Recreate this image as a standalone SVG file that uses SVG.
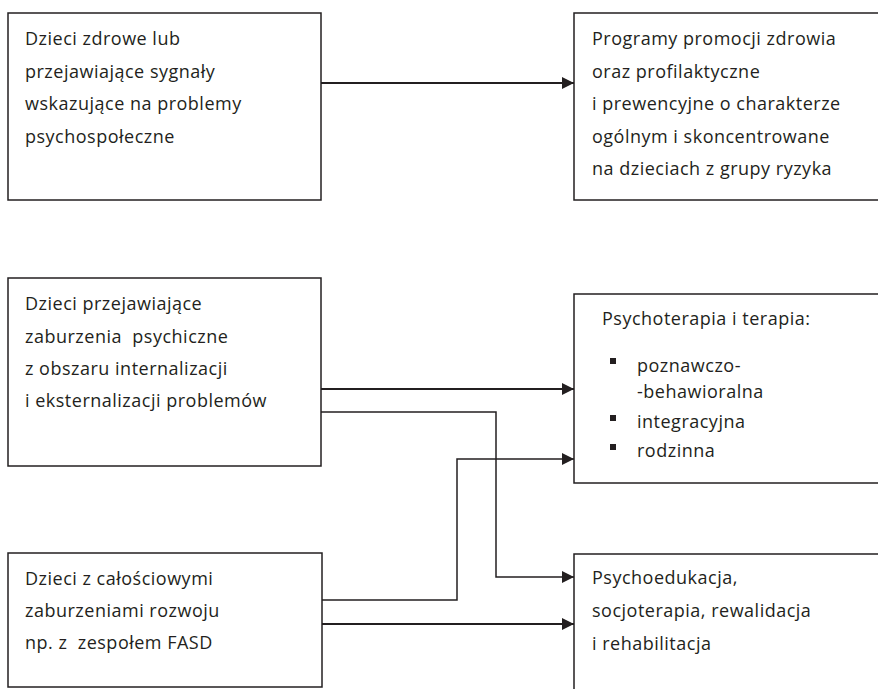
<svg xmlns="http://www.w3.org/2000/svg" width="878" height="689" viewBox="0 0 878 689">
  <style>
    .box { fill: #ffffff; stroke: #231f20; stroke-width: 1.5; }
    .lbl { font-family: "Open Sans", "Noto Sans", "Liberation Sans", sans-serif; font-size: 18px; letter-spacing: 0.5px; fill: #231f20; white-space: pre; }
    .wire { fill: none; stroke: #231f20; stroke-width: 1.5; }
    .wire.bold { stroke-width: 2.2; }
    .bullet { fill: #231f20; }
  </style>
  <defs>
    <marker id="arrowhead" markerWidth="12" markerHeight="12" refX="12" refY="6" orient="auto" markerUnits="userSpaceOnUse">
      <path d="M0,0 L12,6 L0,12 Z" fill="#231f20"/>
    </marker>
  </defs>
  <rect width="878" height="689" fill="#ffffff"/>

  <g id="connectors">
    <line class="wire bold" x1="321" y1="83" x2="574" y2="83" marker-end="url(#arrowhead)"/>
    <line class="wire bold" x1="321" y1="389" x2="574" y2="389" marker-end="url(#arrowhead)"/>
    <polyline class="wire" points="321,412 496,412 496,577 574,577" marker-end="url(#arrowhead)"/>
    <polyline class="wire" points="321,600 457,600 457,459 574,459" marker-end="url(#arrowhead)"/>
    <line class="wire bold" x1="321" y1="624" x2="574" y2="624" marker-end="url(#arrowhead)"/>
  </g>

  <g id="node-healthy">
    <rect class="box" x="8" y="13" width="313" height="187"/>
    <text class="lbl" x="25" y="45">Dzieci zdrowe lub</text>
    <text class="lbl" x="25" y="77.5">przejawiające sygnały</text>
    <text class="lbl" x="25" y="110">wskazujące na problemy</text>
    <text class="lbl" x="25" y="142.5">psychospołeczne</text>
  </g>

  <g id="node-programs">
    <rect class="box" x="574" y="13" width="320" height="187"/>
    <text class="lbl" x="592" y="45">Programy promocji zdrowia</text>
    <text class="lbl" x="592" y="77.5">oraz profilaktyczne</text>
    <text class="lbl" x="592" y="110">i prewencyjne o charakterze</text>
    <text class="lbl" x="592" y="142.5">ogólnym i skoncentrowane</text>
    <text class="lbl" x="592" y="175">na dzieciach z grupy ryzyka</text>
  </g>

  <g id="node-disorders">
    <rect class="box" x="8" y="278" width="313" height="188"/>
    <text class="lbl" x="25" y="310">Dzieci przejawiające</text>
    <text class="lbl" x="25" y="343">zaburzenia  psychiczne</text>
    <text class="lbl" x="25" y="375">z obszaru internalizacji</text>
    <text class="lbl" x="25" y="407">i eksternalizacji problemów</text>
  </g>

  <g id="node-therapy">
    <rect class="box" x="574" y="294" width="320" height="189"/>
    <text class="lbl" x="602" y="325">Psychoterapia i terapia:</text>
    <rect class="bullet" x="610" y="358" width="6" height="6"/>
    <text class="lbl" x="637" y="372">poznawczo-</text>
    <text class="lbl" x="637" y="398">-behawioralna</text>
    <rect class="bullet" x="610" y="415" width="6" height="6"/>
    <text class="lbl" x="637" y="428">integracyjna</text>
    <rect class="bullet" x="610" y="444" width="6" height="6"/>
    <text class="lbl" x="637" y="457">rodzinna</text>
  </g>

  <g id="node-pervasive">
    <rect class="box" x="8" y="553" width="314" height="134"/>
    <text class="lbl" x="25" y="585">Dzieci z całościowymi</text>
    <text class="lbl" x="25" y="617">zaburzeniami rozwoju</text>
    <text class="lbl" x="25" y="649">np. z  zespołem FASD</text>
  </g>

  <g id="node-psychoeducation">
    <rect class="box" x="574" y="554" width="320" height="150"/>
    <text class="lbl" x="592" y="584">Psychoedukacja,</text>
    <text class="lbl" x="592" y="617">socjoterapia, rewalidacja</text>
    <text class="lbl" x="592" y="650">i rehabilitacja</text>
  </g>
</svg>
